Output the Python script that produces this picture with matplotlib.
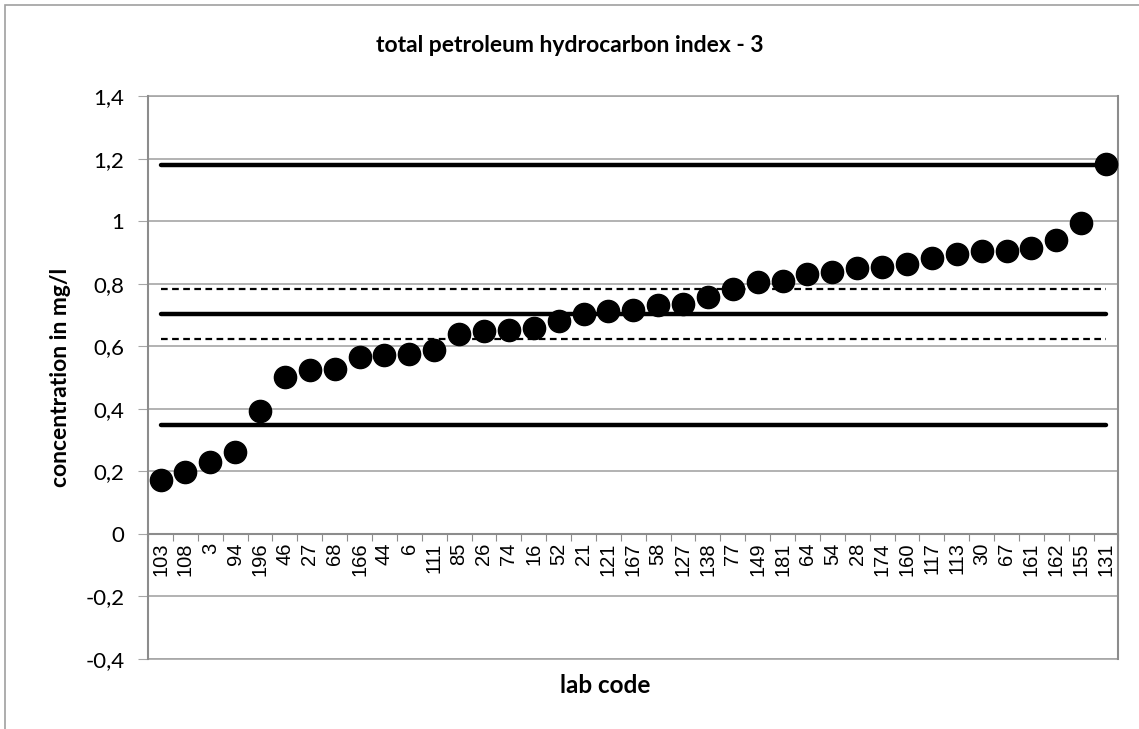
import numpy as np
import matplotlib.pyplot as plt
from matplotlib.patches import Rectangle

# -------- Datos --------
lab_codes = ["103", "108", "3", "94", "196", "46", "27", "68", "166", "44",
             "6", "111", "85", "26", "74", "16", "52", "21", "121", "167",
             "58", "127", "138", "77", "149", "181", "64", "54", "28", "174",
             "160", "117", "113", "30", "67", "161", "162", "155", "131"]
values = [0.172, 0.198, 0.229, 0.262, 0.393, 0.503, 0.525, 0.526, 0.565, 0.572,
          0.576, 0.587, 0.638, 0.648, 0.651, 0.660, 0.680, 0.703, 0.712, 0.716,
          0.733, 0.737, 0.758, 0.785, 0.805, 0.808, 0.833, 0.838, 0.850, 0.854,
          0.862, 0.884, 0.896, 0.904, 0.904, 0.915, 0.939, 0.994, 1.182]

assigned = 0.705
tol_limits = [0.35, 1.18]
conf_limits = [0.625, 0.785]

# -------- Figura --------
fig = plt.figure(figsize=(11.39, 7.29), dpi=100)
fig.patches.append(Rectangle((5 / 1139, -0.1), 1.2, 1 - 5 / 729 + 0.1,
                             transform=fig.transFigure, fill=False,
                             edgecolor="#a0a0a0", linewidth=1.2))
ax = fig.add_axes([0.130, 0.096, 0.852, 0.772])

n = len(lab_codes)
x = np.arange(n) + 0.5

for y in tol_limits:
    ax.plot([x[0], x[-1]], [y, y], color="black", lw=3.2, solid_capstyle="round", zorder=3)
ax.plot([x[0], x[-1]], [assigned, assigned], color="black", lw=3.2,
        solid_capstyle="round", zorder=3)
for y in conf_limits:
    ax.plot([x[0], x[-1]], [y, y], color="black", lw=1.6, ls=(0, (3, 2)), zorder=3)

ax.plot(x, values, "o", color="black", markersize=16, zorder=4)

# -------- Ejes --------
ax.set_xlim(0, n)
ax.set_ylim(-0.4, 1.4)
yt = np.round(np.arange(-0.4, 1.41, 0.2), 1)
ax.set_yticks(yt)
ax.set_yticklabels([("%g" % v).replace(".", ",") if v != 0 else "0" for v in yt],
                   fontsize=16, family="Lato")
ax.grid(axis="y", color="#a6a6a6", lw=1.2)
ax.set_axisbelow(True)
for y in (-0.4, 1.4):
    ax.axhline(y, color="#a6a6a6", lw=1.2, clip_on=False, zorder=1)

ax.spines["bottom"].set_position(("data", 0))
ax.spines["top"].set_visible(False)
for s in ("left", "right", "bottom"):
    ax.spines[s].set_color("#8c8c8c")
    ax.spines[s].set_linewidth(1.5)

ax.set_xticks(np.arange(n + 1))
ax.set_xticklabels([])
ax.set_xticks(x, minor=True)
ax.set_xticklabels(lab_codes, minor=True, rotation=90, fontsize=14.5,
                   family="Liberation Sans")
ax.tick_params(axis="x", which="major", length=5, color="#8c8c8c", direction="out")
ax.tick_params(axis="x", which="minor", length=0, pad=6)
ax.tick_params(axis="y", length=7, color="#a6a6a6", pad=10)

fig.text(0.5, 0.938, "total petroleum hydrocarbon index - 3", ha="center",
         va="center", fontsize=16.5, fontweight="bold", family="Lato")
ax.set_ylabel("concentration in mg/l", fontsize=16.5, fontweight="bold",
              family="Lato", labelpad=10)
fig.text(0.531, 0.06, "lab code", ha="center", va="center", fontsize=17.5,
         fontweight="bold", family="Lato")

plt.savefig("out.png", dpi=100)
